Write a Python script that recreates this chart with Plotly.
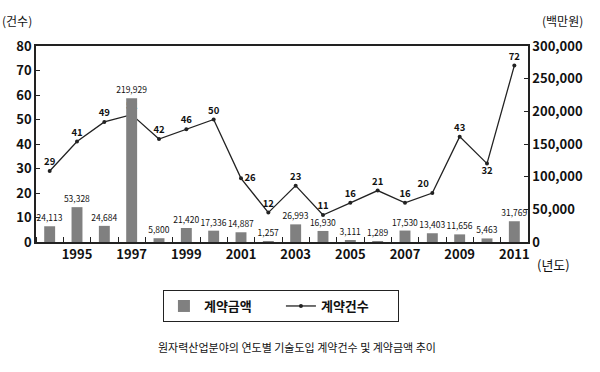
import plotly.graph_objects as go

years = list(range(1994, 2012))
amounts = [24113, 53328, 24684, 219929, 5800, 21420, 17336, 14887, 1257,
           26993, 16930, 3111, 1289, 17530, 13403, 11656, 5463, 31769]
counts = [29, 41, 49, 52, 42, 46, 50, 26, 12, 23, 11, 16, 21, 16, 20, 43, 32, 72]
count_pos = ["top center", "top center", "top center", "top center", "top center",
             "top center", "top center", "middle right", "top center", "top center",
             "top center", "top center", "top center", "top center", "top left",
             "top center", "bottom center", "top center"]
xtick_years = [1995, 1997, 1999, 2001, 2003, 2005, 2007, 2009, 2011]

KR = "Noto Sans CJK KR"
TICKF = dict(family=KR, size=13, color="#111", weight="bold")
fig = go.Figure()
fig.add_trace(go.Bar(
    x=years, y=amounts, yaxis="y2", name="계약금액",
    marker=dict(color="#808080", line=dict(width=0)), width=0.4,
    text=[f"{v:,}" for v in amounts], textposition="outside",
    constraintext="none",
    textfont=dict(family=KR, size=8.5, color="#111"), cliponaxis=False,
))
fig.add_trace(go.Scatter(
    x=years, y=counts, name="계약건수", mode="lines+markers+text",
    line=dict(color="#222", width=1.3), marker=dict(size=4, color="#222"),
    text=[str(v) for v in counts], textposition=count_pos,
    textfont=dict(family=KR, size=9.5, color="#111", weight="bold"), cliponaxis=False,
))

fig.update_layout(
    width=600, height=372,
    margin=dict(l=36, r=72, t=46, b=130, autoexpand=False),
    plot_bgcolor="white", paper_bgcolor="white",
    font=dict(family=KR, color="#111"),
    showlegend=True,
    legend=dict(orientation="h", x=0.258, y=-0.245, xanchor="left", yanchor="top",
                bordercolor="#222", borderwidth=1,
                font=dict(family=KR, size=13, weight="bold"),
                traceorder="normal", itemwidth=30, entrywidth=72),
    xaxis=dict(range=[1993.5, 2011.5], tickvals=xtick_years, ticks="", showgrid=False,
               showline=True, linecolor="#222", linewidth=1.5, mirror=True,
               tickfont=TICKF, automargin=False,
               minor=dict(ticks="inside", tick0=1993.5, dtick=1, ticklen=5,
                          tickcolor="#222", showgrid=False)),
    yaxis=dict(range=[0, 80], dtick=10, ticks="inside", ticklen=4, tickcolor="#222",
               showgrid=False, zeroline=False, showline=True, linecolor="#222",
               linewidth=1.5, tickfont=TICKF, automargin=False),
    yaxis2=dict(range=[0, 300000], dtick=50000, overlaying="y", side="right",
                ticks="inside", ticklen=4, tickcolor="#222", tickformat=",",
                showgrid=False, zeroline=False, showline=True, linecolor="#222",
                linewidth=1.5, tickfont=TICKF, automargin=False),
)
fig.add_annotation(text="(건수)", xref="paper", yref="paper", x=-0.073, y=1.13,
                   xanchor="left", yanchor="middle", showarrow=False,
                   font=dict(family=KR, size=12))
fig.add_annotation(text="(백만원)", xref="paper", yref="paper", x=1.025, y=1.13,
                   xanchor="left", yanchor="middle", showarrow=False,
                   font=dict(family=KR, size=12))
fig.add_annotation(text="(년도)", xref="paper", yref="paper", x=1.015, y=-0.115,
                   xanchor="left", yanchor="middle", showarrow=False,
                   font=dict(family=KR, size=13))
fig.add_annotation(text="원자력산업분야의 연도별 기술도입 계약건수 및 계약금액 추이",
                   xref="paper", yref="paper", x=0.53, y=-0.535,
                   xanchor="center", yanchor="middle", showarrow=False,
                   font=dict(family=KR, size=11))
fig.write_html("out.html", config={"displayModeBar": False},
               post_script="document.body.style.margin='0';")
